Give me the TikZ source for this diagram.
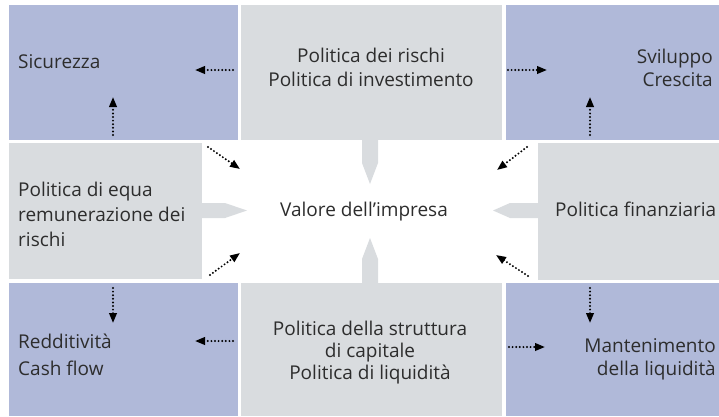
\documentclass[tikz,border=0pt]{standalone}
\usepackage{fontspec}
\setmainfont{Open Sans}
\usetikzlibrary{arrows.meta}
\definecolor{bluebox}{RGB}{176,185,217}
\definecolor{graybox}{RGB}{217,220,223}
\definecolor{txt}{RGB}{45,45,45}
\tikzset{
  bbox/.style={fill=bluebox, draw=none, inner sep=0pt, outer sep=0pt, anchor=north west},
  gbox/.style={fill=graybox, draw=none, inner sep=0pt, outer sep=0pt, anchor=north west},
  tab/.style={fill=graybox, draw=none},
  lbl/.style={font=\fontsize{19}{#1}\selectfont, inner sep=0pt, text=txt},
  lbl/.default=25pt,
  dotarrow/.style={line width=2.2pt, dash pattern=on 0pt off 3.6pt, line cap=round,
    -{Triangle[length=10pt,width=7.5pt]}},
}
\begin{document}
\begin{tikzpicture}[x=1pt,y=-1pt]
\useasboundingbox (0,0) rectangle (719,416);
% boxes
\node[bbox, minimum width=229pt, minimum height=135pt] (tl) at (9,5) {};
\node[gbox, minimum width=261pt, minimum height=135pt] (tc) at (241,5) {};
\node[bbox, minimum width=213pt, minimum height=135pt] (tr) at (506,5) {};
\node[gbox, minimum width=193pt, minimum height=136pt] (ml) at (9,143) {};
\node[gbox, minimum width=181pt, minimum height=137pt] (mr) at (538,143) {};
\node[bbox, minimum width=229pt, minimum height=133pt] (bl) at (9,283) {};
\node[gbox, minimum width=261pt, minimum height=133pt] (bc) at (241,283) {};
\node[bbox, minimum width=213pt, minimum height=133pt] (br) at (506,283) {};
% tabs
\fill[tab] (202,203) -- (225,203) -- (247,210.5) -- (225,218) -- (202,218) -- cycle;
\fill[tab] (538,203) -- (510,203) -- (493,210.5) -- (510,218) -- (538,218) -- cycle;
\fill[tab] (362,140) -- (362,163) -- (370,184) -- (378,163) -- (378,140) -- cycle;
\fill[tab] (362,283) -- (362,259) -- (370,238) -- (378,259) -- (378,283) -- cycle;
% texts
\node[lbl, anchor=base west] (t1) at (18,68) {Sicurezza};
\node[lbl=24pt, align=center] (t2) at (371,67) {Politica dei rischi\\Politica di investimento};
\node[lbl=23pt, align=right, anchor=east] (t3) at (713,68) {Sviluppo\\Crescita};
\node[lbl=25pt, align=left, anchor=west] (t4) at (18,214) {Politica di equa\\remunerazione dei\\rischi};
\node[lbl, anchor=base] (t5) at (364,216) {Valore dell’impresa};
\node[lbl, anchor=base west] (t6) at (555,216) {Politica finanziaria};
\node[lbl=27pt, align=left, anchor=west] (t7) at (18,355) {Redditività\\Cash flow};
\node[lbl=22pt, align=center] (t8) at (370,353) {Politica della struttura\\di capitale\\Politica di liquidità};
\node[lbl=23pt, align=right, anchor=east] (t9) at (716,359) {Mantenimento\\della liquidità};
% connector end points
\coordinate (a1s) at (233,70);  \coordinate (a1e) at (195,70);
\coordinate (a2s) at (508,70);  \coordinate (a2e) at (547,70);
\coordinate (a3s) at (113,135); \coordinate (a3e) at (113,97);
\coordinate (a4s) at (590,135); \coordinate (a4e) at (590,97);
\coordinate (a5s) at (113,288); \coordinate (a5e) at (113,323);
\coordinate (a6s) at (590,288); \coordinate (a6e) at (590,323);
\coordinate (a7s) at (233,341); \coordinate (a7e) at (195,341);
\coordinate (a8s) at (509,347); \coordinate (a8e) at (545,347);
\coordinate (d1s) at (208,147); \coordinate (d1e) at (240,169);
\coordinate (d2s) at (527,147); \coordinate (d2e) at (497,170);
\coordinate (d3s) at (210,275); \coordinate (d3e) at (240,253);
\coordinate (d4s) at (528,276); \coordinate (d4e) at (496,255);
\foreach \a in {a1,a2,a3,a4,a5,a6,a7,a8,d1,d2,d3,d4}
  \draw[dotarrow] (\a s) -- (\a e);
\end{tikzpicture}
\end{document}
